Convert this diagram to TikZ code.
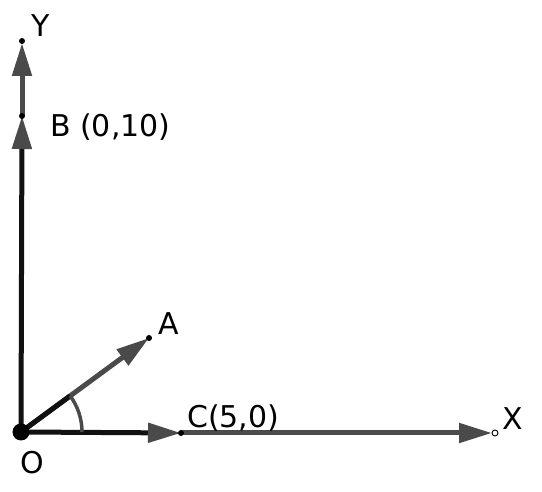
\documentclass[tikz,border=0pt]{standalone}
\usepackage{fontspec}
\setmainfont{DejaVu Sans}
\usetikzlibrary{arrows.meta,calc}
\definecolor{ax}{HTML}{4a4a4a}
\definecolor{dk}{HTML}{111111}
\tikzset{
  lbl/.style={font=\fontsize{30}{35}\selectfont, inner sep=0pt, text=black},
  blk/.style={draw=dk, line width=5pt},
  gry/.style={draw=ax, line width=5pt},
  tip/.style={-{Triangle[length=33pt,width=19pt]}},
  gtip/.style={-{Triangle[length=33pt,width=19pt,color=ax,fill=ax]}},
  sdot/.style={circle, fill=black, inner sep=0pt, minimum size=6pt},
}
\begin{document}
\begin{tikzpicture}[x=1pt,y=-1pt]
\useasboundingbox (0,0) rectangle (542,492);
\coordinate (O) at (21,432);
\coordinate (Y) at (22,41);
\coordinate (B) at (22,116);
\coordinate (A) at (149,338);
\coordinate (C) at (181,433);
\coordinate (X) at (495,433);
\coordinate (Aa) at ($(O)!61pt!(A)$);
% axes
\draw[gry, tip, shorten >=2pt] (B) -- (Y);
\draw[blk, gtip] (O) -- (B);
\draw[gry, tip, shorten >=3pt] (C) -- (X);
\draw[blk, gtip] (O) -- (C);
% vector OA
\draw[gry, tip] (O) -- (A);
\draw[blk] (O) -- (Aa);
% angle arc
\draw[draw=ax, line width=3.5pt] ($(O)+(61,0)$) arc[start angle=0, end angle=36.3, radius=61pt];
% dots
\node[circle, fill=black, inner sep=0pt, minimum size=17pt] (Od) at (O) {};
\node[sdot] (Yd) at (Y) {};
\node[sdot] (Bd) at (B) {};
\node[sdot] (Ad) at (A) {};
\node[sdot] (Cd) at (C) {};
\node[circle, draw=black, fill=white, line width=0.9pt, inner sep=0pt, minimum size=6pt] (Xd) at (X) {};
% labels
\node[lbl] (Yl) at (41,26) {Y};
\node[lbl, anchor=west] (Bl) at (50,127) {B (0,10)};
\node[lbl] (Al) at (169,324) {A};
\node[lbl, anchor=base west] (Cl) at (187,428) {C(5,0)};
\node[lbl] (Ol) at (32,463) {O};
\node[lbl] (Xl) at (513,419) {X};
\end{tikzpicture}
\end{document}
